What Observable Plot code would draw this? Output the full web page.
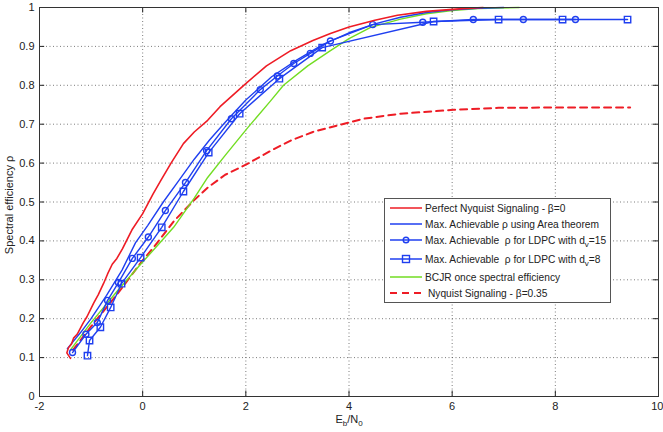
<!DOCTYPE html>
<html>
<head>
<meta charset="utf-8">
<script src="https://cdn.jsdelivr.net/npm/d3@7"></script>
<script src="https://cdn.jsdelivr.net/npm/@observablehq/plot@0.6"></script>
<style>
  html, body { margin: 0; padding: 0; background: #fff; }
  #chart { width: 663px; height: 432px; }
  svg { font-family: "Liberation Sans", Arial, sans-serif; }
</style>
</head>
<body>
<div id="chart"></div>
<script>
// ---- data ----
const xTicks = [-2, 0, 2, 4, 6, 8, 10];
const yTicks = [0, 0.1, 0.2, 0.3, 0.4, 0.5, 0.6, 0.7, 0.8, 0.9, 1];

// Perfect Nyquist Signaling - β=0 (red solid)
const perfectNyquist = [
  [-1.40, 0.098], [-1.47, 0.112], [-1.44, 0.125], [-1.38, 0.135], [-1.34, 0.150], [-1.27, 0.160],
  [-1.15, 0.190], [-1.08, 0.205], [-0.95, 0.240], [-0.86, 0.262], [-0.76, 0.290],
  [-0.68, 0.315], [-0.59, 0.340], [-0.50, 0.355], [-0.39, 0.380], [-0.20, 0.430],
  [0.00, 0.470], [0.20, 0.520], [0.35, 0.555], [0.55, 0.600], [0.79, 0.650],
  [1.00, 0.680], [1.26, 0.710], [1.50, 0.745], [1.96, 0.800], [2.40, 0.850],
  [2.87, 0.889], [3.30, 0.915], [3.64, 0.933], [4.00, 0.950], [4.50, 0.967],
  [4.94, 0.980], [5.50, 0.990], [6.20, 0.997], [6.60, 1.000]
];
// Max. Achievable ρ using Area theorem (blue solid)
const areaTheorem = [
  [-1.46, 0.123], [-1.20, 0.165], [-1.00, 0.200], [-0.70, 0.260], [-0.40, 0.325],
  [-0.14, 0.395], [0.10, 0.440], [0.40, 0.500], [0.70, 0.555], [1.00, 0.610],
  [1.30, 0.660], [1.60, 0.705], [2.00, 0.762], [2.50, 0.822], [3.00, 0.866],
  [3.50, 0.905], [4.00, 0.935], [4.50, 0.958], [5.00, 0.975], [5.50, 0.987],
  [6.00, 0.994], [6.50, 0.998], [7.00, 1.000]
];
// Max. Achievable ρ for LDPC with dv=15 (blue, circles)
const ldpc15 = [
  [-1.36, 0.113], [-1.10, 0.160], [-0.88, 0.190], [-0.68, 0.247], [-0.47, 0.293],
  [-0.20, 0.355], [0.11, 0.410], [0.44, 0.478], [0.83, 0.550], [1.24, 0.632],
  [1.72, 0.714], [2.28, 0.789], [2.61, 0.824], [2.93, 0.856], [3.25, 0.882],
  [3.64, 0.914], [4.46, 0.956], [5.43, 0.962], [6.41, 0.969], [7.38, 0.969],
  [8.39, 0.969]
];
// Max. Achievable ρ for LDPC with dv=8 (blue, squares)
const ldpc8 = [
  [-1.07, 0.105], [-1.03, 0.144], [-0.82, 0.178], [-0.62, 0.229], [-0.41, 0.290],
  [-0.04, 0.357], [0.37, 0.435], [0.79, 0.527], [1.28, 0.627], [1.88, 0.727],
  [2.65, 0.817], [3.48, 0.897], [5.64, 0.964], [6.90, 0.969], [8.14, 0.969],
  [9.40, 0.969]
];
// BCJR once spectral efficiency (green)
const bcjr = [
  [-1.40, 0.120], [-1.00, 0.190], [-0.50, 0.270], [-0.04, 0.340], [0.30, 0.390],
  [0.60, 0.435], [1.00, 0.510], [1.26, 0.563], [1.60, 0.620], [2.03, 0.690],
  [2.48, 0.760], [2.73, 0.800], [3.20, 0.850], [3.64, 0.889], [4.00, 0.920],
  [4.42, 0.949], [5.00, 0.970], [5.50, 0.984], [6.00, 0.992], [6.50, 0.997],
  [7.30, 1.000]
];
// Nyquist Signaling - β=0.35 (red dashed)
const nyquist035 = [
  [-1.35, 0.120], [-1.00, 0.180], [-0.50, 0.262], [0.00, 0.350], [0.21, 0.383],
  [0.60, 0.450], [1.00, 0.505], [1.26, 0.537], [1.60, 0.570], [2.03, 0.598],
  [2.50, 0.633], [2.87, 0.658], [3.30, 0.680], [3.84, 0.699], [4.28, 0.714],
  [5.00, 0.727], [6.03, 0.737], [6.90, 0.742], [8.00, 0.743], [9.45, 0.743]
];

const RED = "#ee1c25", BLUE = "#1f3ff0", GREEN = "#72dd22";
const X = d => d[0], Y = d => d[1];
const fmt = d => String(+d.toFixed(1));

const plot = Plot.plot({
  width: 663, height: 432,
  marginLeft: 39, marginRight: 5, marginTop: 7, marginBottom: 36,
  style: { fontFamily: "Liberation Sans, Arial, sans-serif", fontSize: "11px", color: "#222" },
  x: { domain: [-2, 10], label: null },
  y: { domain: [0, 1], label: null },
  marks: [
    Plot.gridX(xTicks, { stroke: "#444", strokeOpacity: 0.7, strokeDasharray: "1,2.5" }),
    Plot.gridY(yTicks, { stroke: "#444", strokeOpacity: 0.7, strokeDasharray: "1,2.5" }),
    Plot.axisX(xTicks.filter(d => d < 10), { tickFormat: fmt, tickSize: 0, tickPadding: 6, label: null }),
    Plot.axisX([10], { tickFormat: fmt, tickSize: 0, tickPadding: 6, label: null, textAnchor: "end", dx: 5 }),
    Plot.axisY(yTicks, { tickFormat: fmt, tickSize: 0, tickPadding: 5, label: null }),
    Plot.ruleX(xTicks, { x: d => d, y1: 0, y2: 0.014, stroke: "#222" }),
    Plot.ruleX(xTicks, { x: d => d, y1: 1, y2: 0.986, stroke: "#222" }),
    Plot.ruleY(yTicks, { y: d => d, x1: -2, x2: -1.9, stroke: "#222" }),
    Plot.ruleY(yTicks, { y: d => d, x1: 10, x2: 9.9, stroke: "#222" }),
    Plot.line(nyquist035, { x: X, y: Y, stroke: RED, strokeWidth: 2, strokeDasharray: "7,5" }),
    Plot.line(bcjr, { x: X, y: Y, stroke: GREEN, strokeWidth: 1.4 }),
    Plot.line(ldpc8, { x: X, y: Y, stroke: BLUE, strokeWidth: 1.4 }),
    Plot.dot(ldpc8, { x: X, y: Y, symbol: "square", r: 3.6, stroke: BLUE, strokeWidth: 1.4, fill: "none" }),
    Plot.line(ldpc15, { x: X, y: Y, stroke: BLUE, strokeWidth: 1.4 }),
    Plot.dot(ldpc15, { x: X, y: Y, symbol: "circle", r: 3, stroke: BLUE, strokeWidth: 1.4, fill: "none" }),
    Plot.line(areaTheorem, { x: X, y: Y, stroke: BLUE, strokeWidth: 1.4 }),
    Plot.line(perfectNyquist, { x: X, y: Y, stroke: RED, strokeWidth: 1.6 }),
    Plot.frame({ stroke: "#333" })
  ]
});
document.getElementById("chart").appendChild(plot);

// ---- axis titles and legend ----
const svg = d3.select(plot);
const xl = svg.append("text").attr("x", 349).attr("y", 423).attr("text-anchor", "middle")
  .attr("font-size", 11).attr("fill", "#222");
xl.append("tspan").text("E");
xl.append("tspan").attr("dy", 3).attr("font-size", 8).text("b");
xl.append("tspan").attr("dy", -3).text("/N");
xl.append("tspan").attr("dy", 3).attr("font-size", 8).text("0");

svg.append("text").attr("transform", "translate(13,205) rotate(-90)").attr("text-anchor", "middle")
  .attr("font-size", 11).attr("fill", "#222").text("Spectral efficiency ρ");

const legendItems = [
  { label: ["Perfect Nyquist Signaling - β=0"], color: RED, dash: null, marker: null, y: 208, tx: 425 },
  { label: ["Max. Achievable ρ using Area theorem"], color: BLUE, dash: null, marker: null, y: 224, tx: 425 },
  { label: ["Max. Achievable  ρ for LDPC with d", "v", "=15"], color: BLUE, dash: null, marker: "circle", y: 240, tx: 425 },
  { label: ["Max. Achievable  ρ for LDPC with d", "v", "=8"], color: BLUE, dash: null, marker: "square", y: 259, tx: 425 },
  { label: ["BCJR once spectral efficiency"], color: GREEN, dash: null, marker: null, y: 277, tx: 425 },
  { label: ["Nyquist Signaling - β=0.35"], color: RED, dash: "7,5", marker: null, y: 293, tx: 428 }
];
const lg = svg.append("g").attr("text-anchor", "start");
lg.append("rect").attr("x", 384.5).attr("y", 198.5).attr("width", 226).attr("height", 104)
  .attr("fill", "#fff").attr("stroke", "#555");
for (const it of legendItems) {
  lg.append("line").attr("x1", 390).attr("x2", 422).attr("y1", it.y).attr("y2", it.y)
    .attr("stroke", it.color).attr("stroke-width", it.dash ? 2 : 1.5)
    .attr("stroke-dasharray", it.dash);
  if (it.marker === "circle") {
    lg.append("circle").attr("cx", 406).attr("cy", it.y).attr("r", 2.8)
      .attr("fill", "none").attr("stroke", it.color).attr("stroke-width", 1.4);
  } else if (it.marker === "square") {
    lg.append("rect").attr("x", 402.5).attr("y", it.y - 3.5).attr("width", 7).attr("height", 7)
      .attr("fill", "none").attr("stroke", it.color).attr("stroke-width", 1.4);
  }
  const t = lg.append("text").attr("x", it.tx).attr("y", it.y + 4).attr("text-anchor", "start")
    .attr("font-size", 10.2).attr("fill", "#222");
  t.append("tspan").text(it.label[0]);
  if (it.label.length > 1) {
    t.append("tspan").attr("dy", 3).attr("font-size", 8).text(it.label[1]);
    t.append("tspan").attr("dy", -3).text(it.label[2]);
  }
}
</script>
</body>
</html>
